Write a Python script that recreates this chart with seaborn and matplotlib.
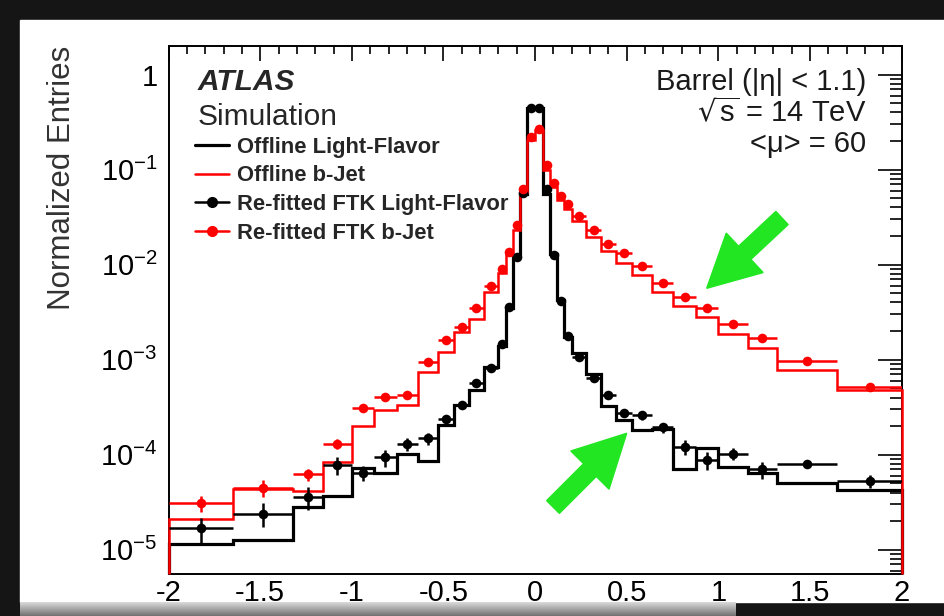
import numpy as np
import matplotlib
matplotlib.use("Agg")
import matplotlib.pyplot as plt
import seaborn as sns
from matplotlib.lines import Line2D
from matplotlib.patches import Rectangle, FancyArrow
from matplotlib.ticker import MultipleLocator, LogLocator, FuncFormatter, NullFormatter
from matplotlib.transforms import IdentityTransform

# bin edges of the histograms (variable width, symmetric)
bin_edges = [-2.0, -1.65, -1.32, -1.16, -1.0, -0.88, -0.755, -0.64, -0.53, -0.44,
             -0.36, -0.28, -0.2, -0.16, -0.12, -0.082, -0.045, 0.0, 0.045, 0.082,
             0.12, 0.16, 0.2, 0.28, 0.36, 0.44, 0.53, 0.64, 0.755, 0.88,
             1.0, 1.16, 1.32, 1.65, 2.0]

# Offline (histogram lines)
offline_light = [1.15e-5, 1.27e-5, 2.8e-5, 3.7e-5, 7.2e-5, 6.4e-5, 1.03e-4, 8.6e-5, 2.05e-4, 3.3e-4,
                 4.8e-4, 8.4e-4, 1.4e-3, 3.5e-3, 1.26e-2, 0.056, 0.44, 0.44, 0.056, 0.013,
                 4.2e-3, 1.74e-3, 1.19e-3, 7.0e-4, 3.26e-4, 2.3e-4, 1.82e-4, 1.85e-4, 7.0e-5, 1.17e-4,
                 7.5e-5, 6.5e-5, 5.0e-5, 4.3e-5]
offline_bjet = [2.1e-5, 4.4e-5, 4.2e-5, 8.3e-5, 2.0e-4, 2.95e-4, 3.3e-4, 7.5e-4, 1.21e-3, 1.95e-3,
                2.7e-3, 5.2e-3, 8.1e-3, 1.26e-2, 2.3e-2, 0.058, 0.205, 0.26, 0.099, 0.066,
                0.048, 0.039, 0.029, 0.0197, 0.014, 0.0103, 0.0078, 0.0052, 0.0037, 0.00284,
                0.00186, 0.00132, 7.8e-4, 4.8e-4]

# Re-fitted FTK (points)
ftk_light = [1.68e-5, 2.4e-5, 3.6e-5, 7.8e-5, 6.4e-5, 9.4e-5, 1.29e-4, 1.49e-4, 2.4e-4, 3.3e-4,
             5.7e-4, 8.1e-4, 1.45e-3, 3.6e-3, 0.012, 0.057, 0.45, 0.45, 0.062, 0.0126,
             4.1e-3, 1.77e-3, 1.08e-3, 6.4e-4, 4.25e-4, 2.77e-4, 2.6e-4, 1.94e-4, 1.21e-4, 8.8e-5,
             1.03e-4, 7.0e-5, 7.9e-5, 5.3e-5]
ftk_bjet = [3.1e-5, 4.5e-5, 6.2e-5, 1.3e-4, 3.1e-4, 4.1e-4, 4.3e-4, 9.4e-4, 1.6e-3, 2.2e-3,
            3.5e-3, 5.9e-3, 8.9e-3, 1.37e-2, 2.6e-2, 0.063, 0.223, 0.266, 0.112, 0.072,
            0.053, 0.0435, 0.0326, 0.0233, 0.0165, 0.0132, 0.0097, 0.0064, 0.0046, 0.0035,
            0.0024, 0.0017, 9.8e-4, 5.1e-4]

# relative vertical errors of the points
ftk_light_relerr = [0.30, 0.28, 0.28, 0.22, 0.18, 0.20, 0.15, 0.15, 0.10, 0.08,
                    0.06, 0.05, 0.03, 0.02, 0.01, 0.01, 0.005, 0.005, 0.01, 0.01,
                    0.02, 0.03, 0.05, 0.06, 0.08, 0.10, 0.10, 0.12, 0.18, 0.22,
                    0.15, 0.20, 0.08, 0.15]
ftk_bjet_relerr = [0.20, 0.20, 0.15, 0.12, 0.08, 0.06, 0.06, 0.05, 0.04, 0.03,
                   0.03, 0.02, 0.02, 0.01, 0.01, 0.005, 0.005, 0.005, 0.005, 0.01,
                   0.01, 0.01, 0.01, 0.01, 0.02, 0.02, 0.02, 0.02, 0.03, 0.03,
                   0.04, 0.04, 0.04, 0.05]

labels = ["Offline Light-Flavor", "Offline b-Jet",
          "Re-fitted FTK Light-Flavor", "Re-fitted FTK b-Jet"]

sns.set_theme(style="white")
plt.rcParams["font.family"] = ["Liberation Sans", "DejaVu Sans"]
plt.rcParams["mathtext.default"] = "regular"
plt.rcParams["axes.unicode_minus"] = False

W, H = 944, 616
YMIN, YMAX = 5.6e-6, 2.0
fig = plt.figure(figsize=(W / 100, H / 100), dpi=100, facecolor="#151515")

# white slide panel + grey shadow band at the bottom
fig.add_artist(Rectangle((20 / W, 14 / H), 1 - 20 / W, 1 - 34 / H,
                         transform=fig.transFigure, color="white", zorder=-5))
band = fig.add_axes([20 / W, 0, 715 / W, 14 / H], zorder=-4)
band.imshow(np.linspace(0.85, 0.45, 20).reshape(-1, 1), cmap="gray", vmin=0, vmax=1,
            aspect="auto", extent=(0, 1, 0, 1))
band.axis("off")

ax = fig.add_axes([168.6 / W, 1 - 573.7 / H, 733 / W, 527.7 / H], zorder=1)
ax.set_facecolor("white")

edges = np.array(bin_edges)
centers = 0.5 * (edges[:-1] + edges[1:])
half = 0.5 * np.diff(edges)

ax.stairs(offline_light, edges, baseline=YMIN, color="black", lw=2.3, zorder=2.6,
          clip_on=False)
ax.stairs(offline_bjet, edges, baseline=YMIN, color="red", lw=1.8, zorder=3,
          clip_on=False)

for vals, rel, col, z in [(ftk_light, ftk_light_relerr, "black", 4),
                          (ftk_bjet, ftk_bjet_relerr, "red", 5)]:
    v = np.array(vals)
    ax.errorbar(centers, v, xerr=half, yerr=v * np.array(rel), fmt="none",
                ecolor=col, elinewidth=1.8, capsize=0, zorder=z)
    sns.scatterplot(x=centers, y=v, color=col, s=48, linewidth=0, ax=ax,
                    legend=False, zorder=z + 0.5)

ax.set_yscale("log")
ax.set_xlim(-2, 2)
ax.set_ylim(YMIN, YMAX)

ax.xaxis.set_major_locator(MultipleLocator(0.5))
ax.xaxis.set_minor_locator(MultipleLocator(0.1))
ax.xaxis.set_major_formatter(FuncFormatter(lambda v, p: f"{v:g}"))
ax.yaxis.set_major_locator(LogLocator(base=10, numticks=10))
ax.yaxis.set_minor_locator(LogLocator(base=10, subs=np.arange(2, 10), numticks=20))
ax.yaxis.set_minor_formatter(NullFormatter())


def log_fmt(v, pos):
    e = int(round(np.log10(v)))
    return "1" if e == 0 else rf"$10^{{{e}}}$"


ax.yaxis.set_major_formatter(FuncFormatter(log_fmt))

ax.tick_params(which="both", direction="in", top=True, right=True, colors="black",
               labelsize=21, width=1.2)
ax.tick_params(axis="x", which="major", length=11, pad=4)
ax.tick_params(axis="x", which="minor", length=6)
ax.tick_params(axis="y", which="major", length=17, pad=8)
ax.tick_params(axis="y", which="minor", length=9)
for sp in ax.spines.values():
    sp.set_color("black")
    sp.set_linewidth(1.4)

ax.set_ylabel("Normalized Entries", fontsize=22.5, color="#333333", loc="top")
ax.yaxis.set_label_coords(-0.125, 1.0)

# labels
ax.text(0.040, 0.9166, "ATLAS", transform=ax.transAxes, fontsize=21.5,
        fontweight="bold", fontstyle="italic", va="baseline")
ax.text(0.040, 0.850, "Simulation", transform=ax.transAxes, fontsize=21.5, va="baseline")
ax.text(0.952, 0.7997, "Barrel (|η| < 1.1)\n$\\sqrt{s}$ = 14 TeV\n<μ> = 60",
        transform=ax.transAxes, fontsize=21, ha="right", va="baseline",
        multialignment="right", linespacing=1.08, color="#1a1a1a")

handles = [Line2D([], [], color="black", lw=2.3),
           Line2D([], [], color="red", lw=1.8),
           Line2D([], [], color="black", lw=1.8, marker="o", ms=7),
           Line2D([], [], color="red", lw=1.8, marker="o", ms=7)]
ax.legend(handles, labels, loc="upper left", bbox_to_anchor=(0.036, 0.828),
          frameon=False, borderpad=0, borderaxespad=0, handlelength=1.55,
          handletextpad=0.35, labelspacing=0.35,
          prop={"weight": "bold", "size": 15.8})

# green arrows (figure pixel coordinates)
green = "#22e622"
for x0, y0, x1, y1 in [(782, 218, 706.7, 288.3), (553, 507, 626.7, 433.3)]:
    arr = FancyArrow(x0, H - y0, x1 - x0, -(y1 - y0), width=18, head_width=54,
                     head_length=52, length_includes_head=True, color=green,
                     transform=IdentityTransform(), zorder=10)
    fig.add_artist(arr)

fig.savefig("out.png", dpi=100, facecolor=fig.get_facecolor())
